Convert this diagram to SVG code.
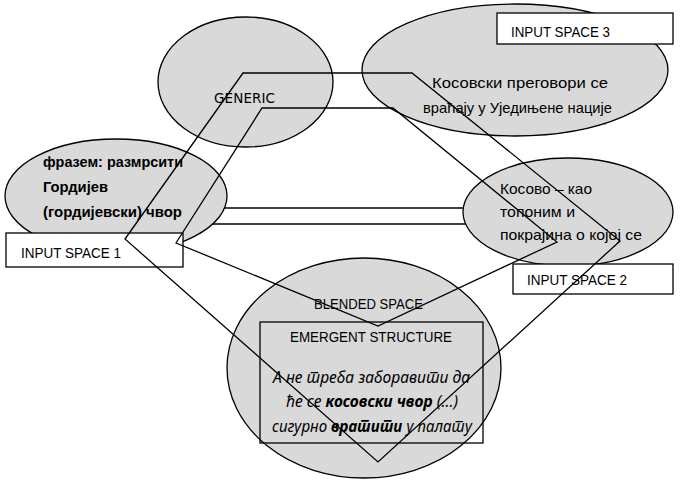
<svg xmlns="http://www.w3.org/2000/svg" width="680" height="484" viewBox="0 0 680 484">
<style>
.sp{fill:#d9d9d9;stroke:#000;stroke-width:1.3}
.bx{fill:#fff;stroke:#000;stroke-width:1.3}
.eb{fill:none;stroke:#000;stroke-width:1.3}
.ln{fill:none;stroke:#000;stroke-width:1.3;stroke-linejoin:miter}
.t{font-family:"Liberation Sans",Arial,sans-serif;font-size:15px;fill:#000}
.u{font-size:14.5px}
.b{font-weight:bold}
.g{font-family:"DejaVu Sans",sans-serif;font-size:13.5px;fill:#000}
.it{font-family:"Noto Sans","Liberation Sans",sans-serif;font-style:italic;font-size:15.5px;fill:#000}
</style>
<rect width="680" height="484" fill="#fff"/>
<g id="generic">
<ellipse class="sp" cx="245.5" cy="82" rx="87.5" ry="65"/>
<text class="g" x="214" y="103" textLength="61">GENERIC</text>
</g>
<g id="input3">
<ellipse class="sp" cx="515" cy="70" rx="153" ry="66"/>
<rect class="bx" x="497" y="13" width="176" height="31"/>
<text class="t u" x="511" y="37" textLength="99" lengthAdjust="spacingAndGlyphs">INPUT SPACE 3</text>
<text class="t" x="432" y="88" textLength="176" lengthAdjust="spacingAndGlyphs">Косовски преговори  се</text>
<text class="t" x="423" y="113" textLength="189" lengthAdjust="spacingAndGlyphs">враћају у Уједињене нације</text>
<rect x="604" y="123" width="2" height="1.3" fill="#000"/>
</g>
<g id="input1">
<ellipse class="sp" cx="116" cy="196" rx="111" ry="57"/>
<text class="t b" x="43" y="167" textLength="140" lengthAdjust="spacingAndGlyphs">фразем: размрсити</text>
<text class="t b" x="43" y="192" textLength="65" lengthAdjust="spacingAndGlyphs">Гордијев</text>
<text class="t b" x="43" y="217" textLength="139" lengthAdjust="spacingAndGlyphs">(гордијевски) чвор</text>
<rect class="bx" x="6" y="233" width="177" height="34"/>
<text class="t u" x="21" y="258" textLength="100" lengthAdjust="spacingAndGlyphs">INPUT SPACE 1</text>
</g>
<g id="input2">
<ellipse class="sp" cx="568" cy="212" rx="105" ry="54"/>
<text class="t" x="500" y="194" textLength="92" lengthAdjust="spacingAndGlyphs">Косово – као</text>
<text class="t" x="500" y="217" textLength="75" lengthAdjust="spacingAndGlyphs">топоним и</text>
<text class="t" x="500" y="240" textLength="142" lengthAdjust="spacingAndGlyphs">покрајина о којој се</text>
<rect class="bx" x="513" y="264" width="160" height="30"/>
<text class="t u" x="527" y="285" textLength="100" lengthAdjust="spacingAndGlyphs">INPUT SPACE 2</text>
</g>
<g id="blended">
<ellipse class="sp" cx="364" cy="368" rx="137" ry="110"/>
<text class="t u" x="314" y="309" textLength="109" lengthAdjust="spacingAndGlyphs">BLENDED SPACE</text>
<rect class="eb" x="260" y="322" width="223" height="121"/>
<text class="t u" x="290" y="342" textLength="162" lengthAdjust="spacingAndGlyphs">EMERGENT STRUCTURE</text>
<text class="it" x="273" y="383" textLength="197" lengthAdjust="spacingAndGlyphs">А не <tspan lang="sr" xml:lang="sr">треба заборавити</tspan> да</text>
<text class="it" x="286" y="407" textLength="172" lengthAdjust="spacingAndGlyphs">ће се <tspan font-weight="bold">косовски чвор</tspan> (...)</text>
<text class="it" x="272" y="432" textLength="200" lengthAdjust="spacingAndGlyphs">сигурно <tspan font-weight="bold" lang="sr" xml:lang="sr">вратити</tspan> у па<tspan lang="sr" xml:lang="sr">лату</tspan></text>
</g>
<g id="connectors">
<polygon class="ln" points="125,239 243,73 412,73 620,241 378,462"/>
<polygon class="ln" points="176,243 262,108 393,108 557,242 378,326"/>
<line class="ln" x1="224.5" y1="208" x2="463.3" y2="208"/>
<line class="ln" x1="212.7" y1="224" x2="465.6" y2="224"/>
</g>
</svg>
